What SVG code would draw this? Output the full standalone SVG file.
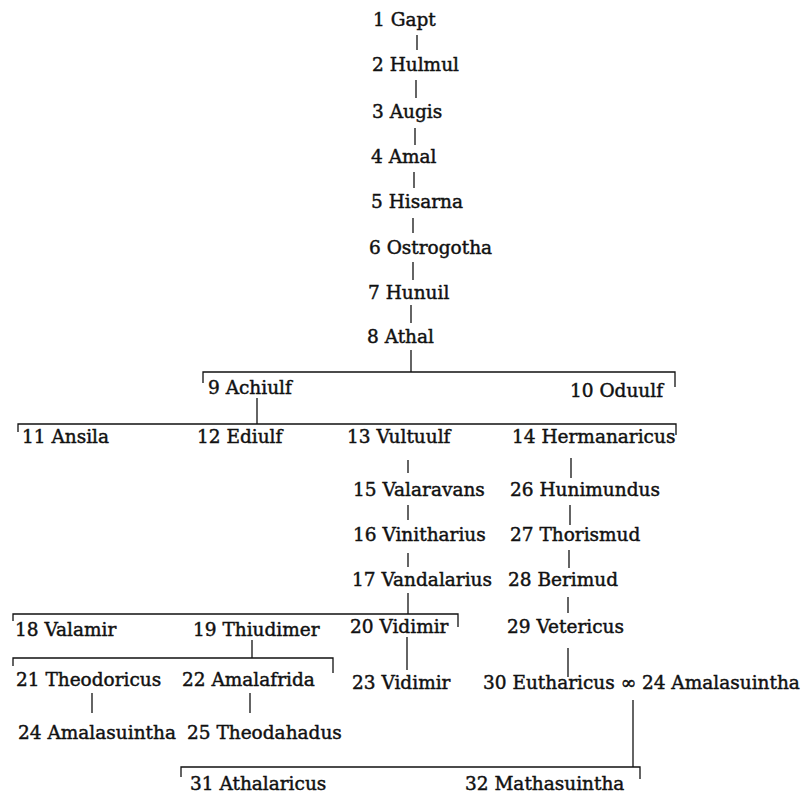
<svg xmlns="http://www.w3.org/2000/svg" width="810" height="798" viewBox="0 0 810 798">
<style>
  text { font-family: "DejaVu Serif", "Liberation Serif", serif; font-size: 18.5px; fill: #111; stroke: #111; stroke-width: 0.45px; }
  .c line, .c polyline { stroke: #111; stroke-width: 1.3; fill: none; }
</style>
<rect width="810" height="798" fill="#fff"/>
<g id="connectors" class="c">
  <line x1="417" y1="35" x2="417" y2="50"/>
  <line x1="416" y1="80" x2="416" y2="98"/>
  <line x1="415" y1="128" x2="415" y2="145"/>
  <line x1="414" y1="172" x2="414" y2="188"/>
  <line x1="413" y1="218" x2="413" y2="233"/>
  <line x1="413" y1="262" x2="413" y2="280"/>
  <line x1="411" y1="305" x2="411" y2="323"/>
  <line x1="411" y1="350" x2="411" y2="372"/>
  <polyline points="203,383 203,372 675,372 675,387"/>
  <line x1="257" y1="398" x2="257" y2="424"/>
  <polyline points="18,432 18,424 676,424 676,435"/>
  <line x1="408" y1="460" x2="408" y2="473"/>
  <line x1="408" y1="505" x2="408" y2="520"/>
  <line x1="408" y1="553" x2="408" y2="567"/>
  <line x1="408" y1="593" x2="408" y2="614"/>
  <line x1="571" y1="458" x2="571" y2="478"/>
  <line x1="570" y1="505" x2="570" y2="525"/>
  <line x1="569" y1="550" x2="569" y2="568"/>
  <line x1="568" y1="597" x2="568" y2="613"/>
  <line x1="568" y1="648" x2="568" y2="677"/>
  <polyline points="13,621 13,614 458,614 458,627"/>
  <line x1="252" y1="640" x2="252" y2="658"/>
  <polyline points="13,666 13,658 333,658 333,673"/>
  <line x1="407" y1="637" x2="407" y2="670"/>
  <line x1="92" y1="693" x2="92" y2="713"/>
  <line x1="250" y1="693" x2="250" y2="713"/>
  <line x1="633" y1="700" x2="633" y2="767"/>
  <polyline points="181,777 181,767 640,767 640,779"/>
</g>
<g id="n1"><text x="373" y="26">1 Gapt</text></g>
<g id="n2"><text x="372" y="71">2 Hulmul</text></g>
<g id="n3"><text x="372" y="118">3 Augis</text></g>
<g id="n4"><text x="371" y="163">4 Amal</text></g>
<g id="n5"><text x="371" y="208">5 Hisarna</text></g>
<g id="n6"><text x="369" y="254">6 Ostrogotha</text></g>
<g id="n7"><text x="368" y="299">7 Hunuil</text></g>
<g id="n8"><text x="367" y="343">8 Athal</text></g>
<g id="n9"><text x="208" y="394">9 Achiulf</text></g>
<g id="n10"><text x="570" y="397">10 Oduulf</text></g>
<g id="n11"><text x="22" y="443">11 Ansila</text></g>
<g id="n12"><text x="197" y="443">12 Ediulf</text></g>
<g id="n13"><text x="347" y="443">13 Vultuulf</text></g>
<g id="n14"><text x="512" y="443">14 Hermanaricus</text></g>
<g id="n15"><text x="353" y="496">15 Valaravans</text></g>
<g id="n16"><text x="353" y="541">16 Vinitharius</text></g>
<g id="n17"><text x="352" y="586">17 Vandalarius</text></g>
<g id="n26"><text x="510" y="496">26 Hunimundus</text></g>
<g id="n27"><text x="510" y="541">27 Thorismud</text></g>
<g id="n28"><text x="508" y="586">28 Berimud</text></g>
<g id="n18"><text x="15" y="636">18 Valamir</text></g>
<g id="n19"><text x="193" y="636">19 Thiudimer</text></g>
<g id="n20"><text x="350" y="633">20 Vidimir</text></g>
<g id="n29"><text x="507" y="633">29 Vetericus</text></g>
<g id="n21"><text x="16" y="686">21 Theodoricus</text></g>
<g id="n22"><text x="182" y="686">22 Amalafrida</text></g>
<g id="n23"><text x="352" y="689">23 Vidimir</text></g>
<g id="n30"><text x="483" y="689">30 Eutharicus ∞ 24 Amalasuintha</text></g>
<g id="n24"><text x="18" y="739">24 Amalasuintha</text></g>
<g id="n25"><text x="187" y="739">25 Theodahadus</text></g>
<g id="n31"><text x="190" y="790">31 Athalaricus</text></g>
<g id="n32"><text x="465" y="790">32 Mathasuintha</text></g>
</svg>
